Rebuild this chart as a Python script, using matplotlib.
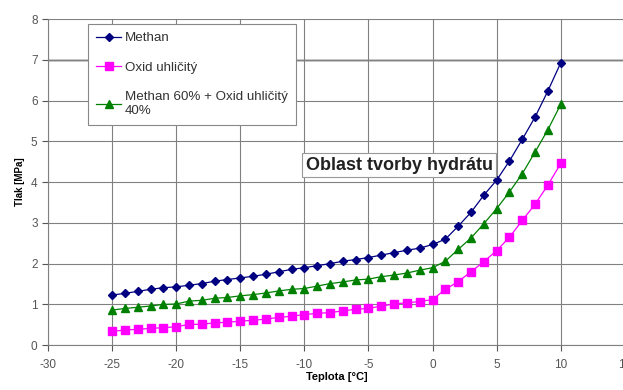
import matplotlib
matplotlib.use("Agg")
import matplotlib.pyplot as plt
from matplotlib.lines import Line2D

plt.rcParams['font.family'] = ['Liberation Sans', 'DejaVu Sans']
plt.rcParams['axes.unicode_minus'] = False

# teplota -25 .. 10 degC
teplota = list(range(-25, 11))

methan = [1.23, 1.27, 1.32, 1.37, 1.41, 1.43, 1.47, 1.51, 1.57, 1.61,
          1.65, 1.69, 1.74, 1.80, 1.86, 1.90, 1.95, 2.00, 2.06, 2.10,
          2.15, 2.21, 2.27, 2.33, 2.38, 2.47, 2.60, 2.92, 3.26, 3.68,
          4.05, 4.52, 5.05, 5.60, 6.24, 6.93]
oxid = [0.34, 0.37, 0.39, 0.41, 0.43, 0.45, 0.51, 0.51, 0.55, 0.56,
        0.59, 0.61, 0.64, 0.68, 0.71, 0.75, 0.78, 0.80, 0.84, 0.88,
        0.90, 0.96, 1.01, 1.04, 1.07, 1.12, 1.37, 1.56, 1.80, 2.05,
        2.32, 2.65, 3.06, 3.46, 3.93, 4.46]
smes = [0.86, 0.90, 0.93, 0.96, 1.00, 1.01, 1.08, 1.10, 1.15, 1.17,
        1.21, 1.24, 1.28, 1.33, 1.37, 1.39, 1.45, 1.51, 1.55, 1.60,
        1.62, 1.68, 1.72, 1.77, 1.84, 1.90, 2.06, 2.35, 2.63, 2.98,
        3.35, 3.76, 4.21, 4.74, 5.29, 5.91]

labels = ["Methan", "Oxid uhličitý", "Methan 60% + Oxid uhličitý\n40%"]

fig = plt.figure(figsize=(6.23, 3.90), dpi=100)
ax = fig.add_axes([0.077, 0.115, 0.926, 0.836])

ax.plot(teplota, methan, color='#000080', lw=0.9, marker='D', ms=4.5,
        mec='#000080', mfc='#000080')
ax.plot(teplota, oxid, color='#FF00FF', lw=0.9, marker='s', ms=6,
        mec='#FF00FF', mfc='#FF00FF')
ax.plot(teplota, smes, color='#008000', lw=0.9, marker='^', ms=6,
        mec='#008000', mfc='#008000')

ax.set_xlim(-30, 15)
ax.set_ylim(0, 8)
ax.set_xticks(range(-30, 16, 5))
ax.set_yticks(range(0, 9))
ax.grid(True, color='#808080', lw=0.8)
ax.axhline(7, color='black', lw=1.0, zorder=0.5)
ax.set_axisbelow(True)
for s in ['top', 'right']:
    ax.spines[s].set_visible(False)
ax.spines['left'].set_color('#808080')
ax.spines['bottom'].set_color('#808080')
ax.tick_params(labelsize=8.5, colors='#555555', length=4, direction='out')
ax.tick_params(axis='x', pad=6)

ax.set_xlabel("Teplota [°C]", fontsize=8, fontweight='bold', labelpad=1)
ax.set_ylabel("Tlak [MPa]", fontsize=7, fontweight='bold', labelpad=4)

ax.text(-2.6, 4.42, "Oblast tvorby hydrátu", fontsize=13, fontweight='bold',
        color='#222222', ha='center', va='center',
        bbox=dict(boxstyle='square,pad=0.2', fc='white', ec='#999999', lw=0.8))

handles = [
    Line2D([], [], color='#000080', lw=0.9, marker='D', ms=4.5),
    Line2D([], [], color='#FF00FF', lw=0.9, marker='s', ms=6),
    Line2D([], [], color='#008000', lw=0.9, marker='^', ms=6),
]
leg = ax.legend(handles, labels, loc='upper left',
                bbox_to_anchor=(88 / 623, 1 - 24 / 390),
                bbox_transform=fig.transFigure, fontsize=9.6,
                fancybox=False, framealpha=1, edgecolor='#888888',
                labelspacing=1.3, handlelength=1.9, handletextpad=0.25,
                borderpad=0.6, borderaxespad=0)
leg.get_frame().set_linewidth(0.8)
for t in leg.get_texts():
    t.set_color('#333333')

fig.savefig("out.png", dpi=100)
